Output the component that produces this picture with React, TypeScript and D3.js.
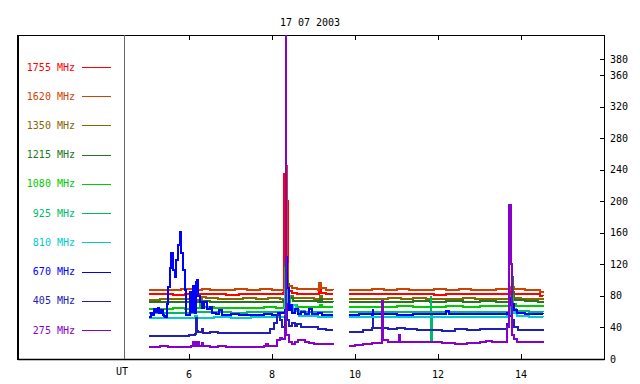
import React from 'react';
import * as d3 from 'd3';

type Pt = [number, number];

// chart title and axes
const title = '17 07 2003';
const hourTicks = [6, 8, 10, 12, 14];
const fluxTicks = [0, 40, 80, 120, 160, 200, 240, 280, 320, 360, 380];

// frequencies and their colours (legend order, top to bottom)
const freqs = ['1755 MHz', '1620 MHz', '1350 MHz', '1215 MHz', '1080 MHz', '925 MHz', '810 MHz', '670 MHz', '405 MHz', '275 MHz'];
const colors = ['#ff0000', '#cc4400', '#886600', '#227722', '#00cc00', '#00bb66', '#00cccc', '#0000ff', '#2020b8', '#8800cc'];

// [UT hour, flux] per frequency, two observing segments each
const s1755: Pt[][] = [
  [[5.04, 82], [5.3, 82.5], [5.6, 81.5], [5.9, 82], [6.1, 83], [6.3, 82], [6.6, 82.5], [6.9, 81.8], [7.2, 82.3], [7.5, 82], [7.8, 82.6], [8.1, 82], [8.26, 84], [8.285, 160], [8.295, 235], [8.37, 200], [8.385, 95], [8.41, 86], [8.47, 84], [8.6, 83], [8.8, 82.5], [9.0, 82], [9.12, 86], [9.15, 93], [9.18, 84], [9.3, 82], [9.47, 82]],
  [[9.86, 82.5], [10.1, 82], [10.4, 82.8], [10.7, 82.2], [11.0, 82.6], [11.3, 82], [11.6, 82.5], [11.9, 81.8], [12.2, 82.4], [12.5, 82], [12.8, 82.5], [13.1, 82], [13.4, 82.6], [13.7, 82], [13.76, 85], [13.8, 83], [14.0, 82.3], [14.3, 82], [14.45, 80.5], [14.53, 80]],
];
const s1620: Pt[][] = [
  [[5.04, 87], [5.2, 88], [5.5, 87.5], [5.8, 88.2], [6.1, 87], [6.3, 89], [6.5, 88], [6.8, 87.6], [7.1, 88.3], [7.4, 87.8], [7.7, 88.5], [8.0, 88], [8.28, 89], [8.3, 92], [8.345, 245], [8.365, 120], [8.38, 92], [8.47, 90], [8.6, 89], [8.9, 88.5], [9.1, 88], [9.14, 97], [9.17, 90], [9.3, 88], [9.47, 87.5]],
  [[9.86, 88], [10.1, 87.5], [10.4, 88.3], [10.7, 87.8], [11.0, 88.5], [11.3, 88], [11.6, 87.5], [11.9, 88.2], [12.2, 87.6], [12.5, 88.4], [12.8, 88], [13.1, 87.5], [13.4, 88.2], [13.72, 88], [13.77, 91], [13.82, 88.5], [14.1, 88], [14.35, 87], [14.45, 85], [14.53, 84]],
];
const s1350: Pt[][] = [
  [[5.04, 75], [5.3, 76], [5.6, 75.5], [5.9, 76.5], [6.15, 75], [6.3, 79], [6.4, 77], [6.7, 76.5], [7.0, 76], [7.3, 76.8], [7.6, 76.2], [7.9, 77], [8.2, 76.5], [8.31, 110], [8.35, 95], [8.39, 80], [8.5, 78], [8.7, 77], [9.0, 76.5], [9.15, 80], [9.2, 76], [9.47, 76]],
  [[9.86, 76], [10.2, 76.5], [10.5, 76], [10.8, 77], [11.1, 76.3], [11.4, 76.8], [11.7, 76], [12.0, 76.6], [12.3, 76.2], [12.6, 76.8], [12.9, 76], [13.2, 76.5], [13.5, 76.2], [13.75, 80], [13.82, 77], [14.0, 76.5], [14.3, 76], [14.53, 75]],
];
const s1215: Pt[][] = [
  [[5.04, 72], [5.4, 72.5], [5.8, 71.8], [6.1, 72.3], [6.3, 74], [6.5, 72.5], [6.9, 72], [7.3, 72.6], [7.7, 72.2], [8.1, 72.8], [8.27, 75], [8.31, 122], [8.35, 100], [8.38, 78], [8.5, 74], [8.8, 73], [9.1, 72.5], [9.15, 76], [9.2, 72.5], [9.47, 72]],
  [[9.86, 72.5], [10.2, 72], [10.6, 72.8], [11.0, 72.3], [11.4, 73], [11.8, 72.5], [12.2, 73], [12.6, 72.5], [13.0, 73], [13.4, 72.6], [13.7, 74], [13.78, 104], [13.8, 85], [13.84, 75], [14.1, 73], [14.4, 72], [14.53, 71]],
];
const s1080: Pt[][] = [
  [[5.04, 63], [5.3, 64], [5.6, 64.5], [5.9, 64], [6.1, 65], [6.25, 70], [6.3, 66], [6.6, 65], [6.9, 64.8], [7.2, 65.2], [7.5, 64.8], [7.8, 65.5], [8.1, 65], [8.29, 70], [8.32, 115], [8.36, 80], [8.42, 68], [8.6, 66], [8.9, 65.5], [9.15, 68], [9.2, 65.5], [9.47, 65.5]],
  [[9.86, 66], [10.2, 66.5], [10.6, 66.2], [11.0, 66.8], [11.4, 66.4], [11.8, 66], [12.2, 66.8], [12.6, 66.3], [13.0, 67], [13.4, 66.6], [13.7, 67], [13.77, 80], [13.81, 70], [13.88, 67.5], [14.2, 67], [14.53, 66]],
];
const s925: Pt[][] = [
  [[5.04, 58], [5.4, 58.5], [5.8, 58.8], [6.1, 59], [6.3, 60], [6.6, 59], [7.0, 58.8], [7.4, 59.2], [7.8, 59], [8.2, 59.5], [8.32, 100], [8.35, 75], [8.39, 63], [8.5, 61], [8.8, 60], [9.1, 59.5], [9.47, 59.5]],
  [[9.86, 59.5], [10.3, 59.3], [10.8, 59.6], [11.3, 59.2], [11.82, 59.8], [11.83, 79], [11.84, 21], [11.85, 59.6], [12.3, 59.4], [12.8, 59.8], [13.3, 59.5], [13.65, 60], [13.75, 72], [13.8, 64], [13.88, 61], [14.2, 60], [14.53, 59.5]],
];
const s810: Pt[][] = [
  [[5.04, 52], [5.5, 52.5], [6.0, 52.3], [6.15, 55], [6.2, 52.5], [6.6, 52.8], [7.0, 52.5], [7.5, 53], [8.0, 52.8], [8.28, 53], [8.32, 85], [8.36, 70], [8.42, 66], [8.5, 68], [8.57, 62], [8.65, 55], [8.8, 54], [9.1, 53.5], [9.47, 53.5]],
  [[9.86, 53], [10.4, 53.2], [11.0, 53], [11.6, 53.4], [12.2, 53.2], [12.8, 53.5], [13.3, 53.3], [13.65, 54], [13.74, 62], [13.82, 58], [13.9, 55], [14.2, 53.5], [14.53, 53]],
];
const s670: Pt[][] = [
  [[5.04, 53], [5.08, 58], [5.12, 56], [5.16, 63], [5.2, 60], [5.24, 65], [5.28, 58], [5.33, 62], [5.37, 56], [5.4, 54], [5.43, 53.7], [5.46, 70], [5.49, 91.8], [5.53, 115.5], [5.57, 134.6], [5.61, 113], [5.65, 104.5], [5.69, 125.7], [5.73, 144.8], [5.77, 161.7], [5.81, 134.6], [5.85, 113], [5.89, 87.6], [5.93, 55.9], [5.97, 56], [6.01, 85], [6.04, 75], [6.07, 60], [6.1, 92], [6.13, 58], [6.16, 98], [6.19, 100], [6.22, 80], [6.25, 72], [6.3, 65], [6.35, 72], [6.42, 63], [6.5, 66], [6.55, 58], [6.65, 57], [6.72, 62], [6.8, 56], [7.0, 56.5], [7.2, 55.5], [7.5, 56.2], [7.8, 57], [8.0, 56], [8.15, 58], [8.3, 62], [8.33, 129], [8.36, 90], [8.4, 62], [8.44, 68], [8.49, 58], [8.55, 64], [8.62, 57], [8.7, 60], [8.8, 57], [8.9, 63], [8.95, 57], [9.1, 58], [9.2, 56], [9.47, 56]],
  [[9.86, 56], [10.1, 56.5], [10.4, 56], [10.42, 62], [10.44, 56.5], [10.7, 56.8], [11.0, 56.2], [11.4, 57], [11.8, 56.5], [12.1, 57], [12.2, 61], [12.26, 57], [12.5, 57.2], [12.9, 56.8], [13.3, 57.5], [13.65, 58], [13.71, 68], [13.75, 78], [13.79, 70], [13.84, 62], [13.9, 58], [14.1, 57], [14.53, 56.5]],
];
const s405: Pt[][] = [
  [[5.04, 29], [5.4, 29.3], [5.8, 29.5], [6.0, 30], [6.14, 32], [6.16, 52], [6.18, 36], [6.22, 34], [6.3, 38], [6.34, 33], [6.5, 34], [6.7, 33], [7.0, 32.6], [7.3, 33.2], [7.6, 32.5], [7.85, 33], [7.95, 38], [8.05, 46], [8.12, 56], [8.18, 50], [8.23, 40], [8.3, 55], [8.33, 70], [8.36, 50], [8.4, 42], [8.47, 46], [8.54, 42], [8.6, 44], [8.7, 40], [8.8, 41], [8.95, 40], [9.1, 38], [9.3, 37], [9.47, 37]],
  [[9.86, 34], [10.0, 34.8], [10.2, 37], [10.4, 39], [10.42, 51], [10.44, 39], [10.64, 40], [10.66, 45], [10.68, 39], [10.8, 38], [11.0, 39.5], [11.2, 37.5], [11.5, 37], [12.1, 36], [12.4, 37.5], [12.7, 37], [13.0, 38], [13.3, 37.5], [13.6, 38], [13.67, 45], [13.72, 54], [13.78, 50], [13.84, 40], [13.92, 37], [14.2, 36.5], [14.53, 36]],
];
const s275: Pt[][] = [
  [[5.04, 15.5], [5.3, 16], [5.5, 15.3], [5.8, 15.8], [6.05, 16], [6.1, 21], [6.13, 16.5], [6.2, 22], [6.24, 17], [6.3, 20], [6.34, 16], [6.5, 15.5], [6.7, 16], [6.9, 15.2], [7.2, 15.8], [7.5, 15.3], [7.8, 16], [7.85, 19], [7.9, 16], [8.0, 17], [8.12, 24], [8.18, 27], [8.24, 25], [8.3, 40], [8.325, 420], [8.345, 30], [8.4, 22], [8.47, 19], [8.55, 22], [8.62, 24], [8.7, 23.5], [8.8, 22], [8.9, 20], [9.0, 18.5], [9.2, 18.5], [9.47, 18]],
  [[9.86, 16.5], [10.0, 17.5], [10.2, 19.5], [10.4, 20.5], [10.65, 21], [10.66, 73], [10.68, 24], [10.8, 21.5], [11.06, 22], [11.07, 30], [11.09, 22], [11.3, 21.5], [11.6, 21], [12.1, 20.5], [12.4, 19.5], [12.7, 20], [13.0, 21], [13.15, 23], [13.3, 21.5], [13.6, 22], [13.67, 40], [13.7, 164], [13.72, 195], [13.76, 120], [13.78, 30], [13.82, 25], [13.9, 22], [14.1, 21.5], [14.35, 21], [14.53, 20.5]],
];
const series = [s1755, s1620, s1350, s1215, s1080, s925, s810, s670, s405, s275];

const W = 640;
const H = 384;
const left = 18, utX = 124, right = 604, top = 35, bottom = 359;
const font = 'DejaVu Sans Mono, monospace';

export default function App() {
  const x = d3.scaleLinear().domain([4.43, 16]).range([utX, right]);
  const y = d3.scaleLinear().domain([0, 411]).range([bottom, top]);
  const line = d3.line<Pt>().x(d => x(d[0])).y(d => y(d[1])).curve(d3.curveStepAfter);
  const legendY = d3.scalePoint<string>().domain(freqs).range([67, 330]);

  return (
    <svg width={W} height={H} style={{ position: 'absolute', left: 0, top: 0, background: '#fff' }}>
      <defs>
        <clipPath id="plot">
          <rect x={utX} y={top} width={right - utX} height={bottom - top} />
        </clipPath>
      </defs>
      <text x={310} y={26} textAnchor="middle" fontFamily={font} fontSize={10} fill="#000">{title}</text>

      {/* frame */}
      <line x1={left} x2={right} y1={top + 0.5} y2={top + 0.5} stroke="#000" />
      <line x1={left} x2={right + 0.5} y1={bottom + 0.5} y2={bottom + 0.5} stroke="#000" strokeWidth={1.5} />
      <line x1={left} x2={left} y1={top} y2={bottom + 1} stroke="#000" strokeWidth={2} />
      <line x1={utX + 0.5} x2={utX + 0.5} y1={top} y2={bottom} stroke="#666" />
      <line x1={right + 0.5} x2={right + 0.5} y1={top} y2={bottom + 1} stroke="#000" />

      {/* x ticks top and bottom */}
      {hourTicks.map(h => (
        <g key={h}>
          <line x1={Math.round(x(h)) + 0.5} x2={Math.round(x(h)) + 0.5} y1={top} y2={top + 5} stroke="#000" />
          <line x1={Math.round(x(h)) + 0.5} x2={Math.round(x(h)) + 0.5} y1={bottom} y2={bottom - 5} stroke="#000" />
          <text x={x(h)} y={378} textAnchor="middle" fontFamily={font} fontSize={10} fill="#000">{h}</text>
        </g>
      ))}
      <text x={122} y={375} textAnchor="middle" fontFamily={font} fontSize={10} fill="#000">UT</text>

      {/* y ticks on the right */}
      {fluxTicks.map(t => (
        <g key={t}>
          <line x1={right - 4} x2={right} y1={Math.round(y(t)) + 0.5} y2={Math.round(y(t)) + 0.5} stroke="#000" />
          <text x={610} y={y(t) + 3.5} fontFamily={font} fontSize={10} fill="#000">{t}</text>
        </g>
      ))}

      {/* legend */}
      {freqs.map((f, i) => (
        <g key={f}>
          <text x={75} y={legendY(f)! + 3.5} textAnchor="end" fontFamily={font} fontSize={10} fill={colors[i]}>{f}</text>
          <line x1={82} x2={111} y1={Math.round(legendY(f)!) + 0.5} y2={Math.round(legendY(f)!) + 0.5} stroke={colors[i]} />
        </g>
      ))}

      {/* data */}
      <g clipPath="url(#plot)">
        {series.map((segs, i) =>
          segs.map((seg, j) => (
            <path key={`${i}-${j}`} d={line(seg) || ''} fill="none" stroke={colors[i]} strokeWidth={2} shapeRendering="crispEdges" />
          ))
        )}
      </g>
    </svg>
  );
}
